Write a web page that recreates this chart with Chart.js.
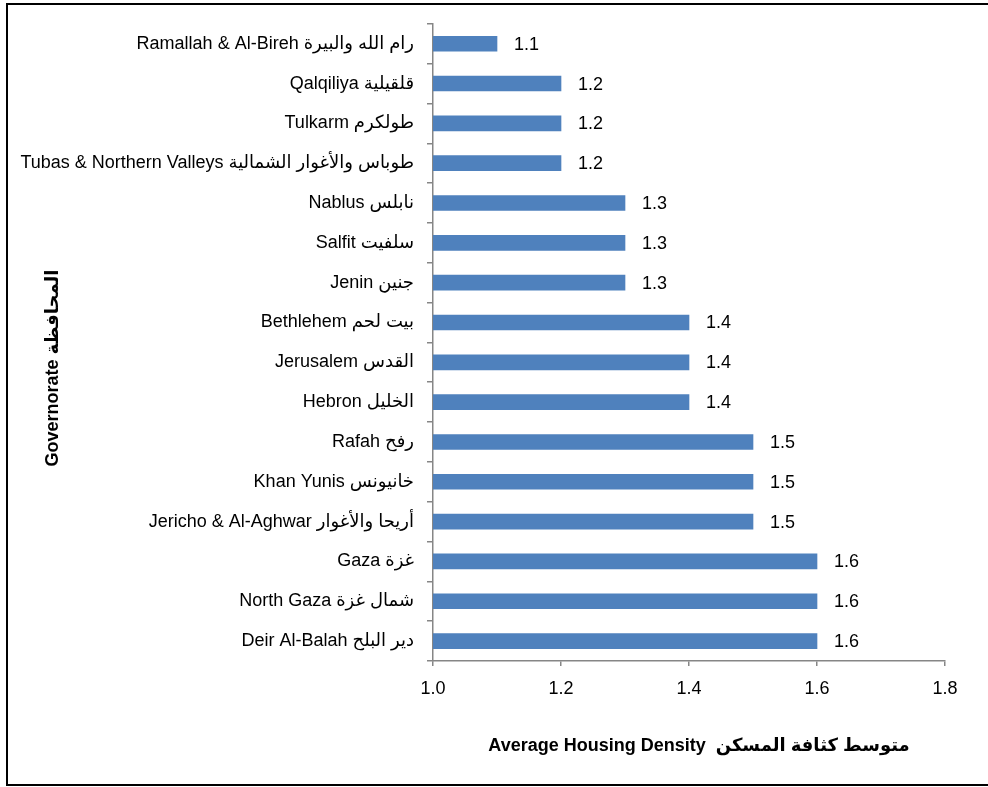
<!DOCTYPE html>
<html lang="en">
<head>
    <meta charset="UTF-8">
    <script src="https://cdn.jsdelivr.net/npm/chart.js"></script>
    <title>Average Housing Density</title>
    <style>
        body { margin: 0; background: #ffffff; }
        .caixa { width: 988px; height: 787px; }
    </style>
</head>
<body>
    <div class="caixa">
        <canvas id="grafico" width="988" height="787"></canvas>
    </div>

<script>
    var governorates = [
        'Ramallah & Al-Bireh رام الله والبيرة',
        'Qalqiliya قلقيلية',
        'Tulkarm طولكرم',
        'Tubas & Northern Valleys طوباس والأغوار الشمالية',
        'Nablus نابلس',
        'Salfit سلفيت',
        'Jenin جنين',
        'Bethlehem بيت لحم',
        'Jerusalem القدس',
        'Hebron الخليل',
        'Rafah رفح',
        'Khan Yunis خانيونس',
        'Jericho & Al-Aghwar أريحا والأغوار',
        'Gaza غزة',
        'North Gaza شمال غزة',
        'Deir Al-Balah دير البلح'
    ];
    var density = [1.1, 1.2, 1.2, 1.2, 1.3, 1.3, 1.3, 1.4, 1.4, 1.4, 1.5, 1.5, 1.5, 1.6, 1.6, 1.6];
    var xTicks = [1.0, 1.2, 1.4, 1.6, 1.8];
    var yTitle = 'Governorate المحافظة';
    var xTitle = 'Average Housing Density  متوسط كثافة المسكن';

    var fonte = '"Liberation Sans", "DejaVu Sans", sans-serif';

    // moldura, rotulos das barras e titulos dos eixos
    var extras = {
        id: 'extras',
        afterDraw: function (chart) {
            var ctx = chart.ctx;
            ctx.save();
            ctx.strokeStyle = '#000000';
            ctx.lineWidth = 2;
            ctx.strokeRect(7, 4, 990, 781);

            ctx.fillStyle = '#000000';
            ctx.font = '18px ' + fonte;
            ctx.textAlign = 'left';
            ctx.textBaseline = 'middle';
            var meta = chart.getDatasetMeta(0);
            meta.data.forEach(function (bar, i) {
                ctx.fillText(density[i].toFixed(1), bar.x + 17, bar.y + 1);
            });

            ctx.font = 'bold 18px ' + fonte;
            ctx.textAlign = 'center';
            ctx.fillText(xTitle, 699, 746);

            ctx.translate(53, 368);
            ctx.rotate(-Math.PI / 2);
            ctx.fillText(yTitle, 0, 0);
            ctx.restore();
        }
    };

    var ctx = document.getElementById('grafico').getContext('2d');
    new Chart(ctx, {
        type: 'bar',
        data: {
            labels: governorates,
            datasets: [{
                data: density,
                backgroundColor: '#4F81BD',
                borderWidth: 0,
                barThickness: 15
            }]
        },
        options: {
            indexAxis: 'y',
            responsive: false,
            animation: false,
            layout: { padding: { top: 22, right: 43, bottom: 0, left: 0 } },
            plugins: {
                legend: { display: false },
                tooltip: { enabled: false }
            },
            scales: {
                x: {
                    min: 1.0,
                    max: 1.8,
                    afterFit: function (scale) { scale.height = 126; },
                    afterBuildTicks: function (scale) {
                        scale.ticks = xTicks.map(function (v) { return { value: v }; });
                    },
                    grid: { drawOnChartArea: false, tickLength: 5, color: '#868686', lineWidth: 1.5 },
                    border: { color: '#868686', width: 1.5 },
                    ticks: {
                        color: '#000000',
                        padding: 12,
                        font: { family: fonte, size: 18 },
                        callback: function (v) { return Number(v).toFixed(1); }
                    }
                },
                y: {
                    afterFit: function (scale) { scale.width = 433; },
                    grid: { drawOnChartArea: false, tickLength: 6, color: '#868686', lineWidth: 1.5 },
                    border: { color: '#868686', width: 1.5 },
                    ticks: {
                        color: '#000000',
                        padding: 13,
                        autoSkip: false,
                        font: { family: fonte, size: 18 }
                    }
                }
            }
        },
        plugins: [extras]
    });
</script>
</body>
</html>
